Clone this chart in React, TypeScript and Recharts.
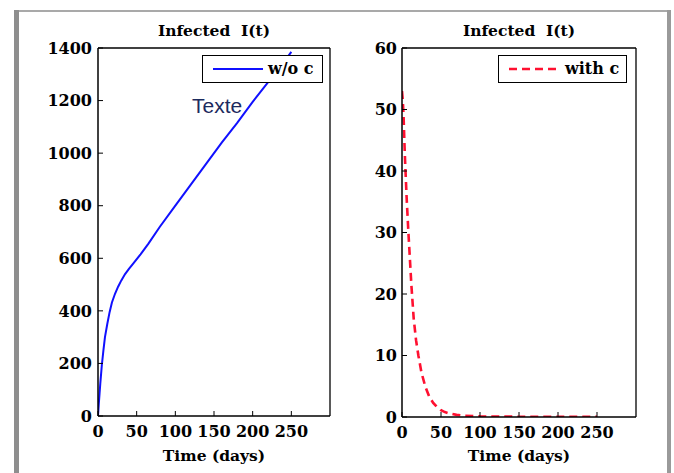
import React from 'react';
import { LineChart, Line, XAxis, YAxis, Legend, Label } from 'recharts';

// Series without control: time (days) and infected count
const woTimes = [0, 1, 2, 3, 5, 7, 9, 12, 15, 18, 22, 26, 30, 35, 40, 46, 55, 65, 80, 100, 120, 140, 160, 180, 200, 220, 240, 250];
const woValues = [0, 45, 85, 125, 195, 250, 300, 350, 395, 432, 465, 492, 515, 540, 560, 582, 615, 655, 720, 800, 880, 960, 1040, 1115, 1195, 1270, 1345, 1385];

// Series with control
const withTimes = [0, 1, 2, 3, 4, 6, 8, 10, 12, 15, 18, 21, 25, 30, 35, 40, 45, 50, 55, 60, 70, 80, 100, 125, 150, 175, 200, 225, 250];
const withValues = [53, 51.5, 49, 45, 41.5, 35.5, 30.5, 26, 21.5, 16, 12.5, 10, 7.2, 4.9, 3.3, 2.3, 1.6, 1.1, 0.8, 0.6, 0.35, 0.2, 0.1, 0.06, 0.05, 0.04, 0.03, 0.03, 0.03];

const xTicks = [0, 50, 100, 150, 200, 250];
const xTopTicks = [0, 50, 100, 150, 200, 250, 300];
const yTicksLeft = [0, 200, 400, 600, 800, 1000, 1200, 1400];
const yTicksRight = [0, 10, 20, 30, 40, 50, 60];

const titleText = 'Infected\u00A0 I(t)';
const xLabelText = 'Time (days)';
const annotationText = 'Texte';
const woName = 'w/o c';
const withName = 'with c';

const woData = woTimes.map((t, i) => ({ t, v: woValues[i] }));
const withData = withTimes.map((t, i) => ({ t, v: withValues[i] }));

const serif = 'DejaVu Serif';
const tickStyle = { fill: '#000', fontFamily: serif, fontWeight: 'bold' as const, fontSize: 16 };
const labelStyle = { fill: '#000', fontFamily: serif, fontWeight: 'bold' as const, fontSize: 15.5 };

function LegendBox(props: { width: number; name: string; dashed?: boolean; color: string }) {
  return (
    <div
      style={{
        boxSizing: 'border-box',
        width: props.width,
        height: 28,
        border: '1.4px solid #000',
        background: '#fff',
        position: 'relative',
      }}
    >
      <svg width={52} height={26} style={{ position: 'absolute', left: 9, top: 0 }}>
        <line
          x1={1}
          y1={13}
          x2={51}
          y2={13}
          stroke={props.color}
          strokeWidth={props.dashed ? 2.6 : 2}
          strokeDasharray={props.dashed ? '8 5' : undefined}
        />
      </svg>
      <span
        style={{
          position: 'absolute',
          left: props.dashed ? 66 : 65,
          top: 3,
          fontFamily: serif,
          fontWeight: 'bold',
          fontSize: 16,
          lineHeight: '20px',
          color: '#000',
          whiteSpace: 'nowrap',
        }}
      >
        {props.name}
      </span>
    </div>
  );
}

function Panel(props: {
  data: { t: number; v: number }[];
  width: number;
  margin: { top: number; right: number; bottom: number; left: number };
  yWidth: number;
  xHeight: number;
  yDomain: [number, number];
  yTicks: number[];
  yTickMargin: number;
  color: string;
  dashed?: boolean;
  name: string;
  legendLeft: number;
  legendWidth: number;
}) {
  return (
    <LineChart width={props.width} height={473} data={props.data} margin={props.margin}>
      <XAxis
        xAxisId="b"
        dataKey="t"
        type="number"
        domain={[0, 300]}
        ticks={xTicks}
        allowDataOverflow
        height={props.xHeight}
        tickSize={-5}
        tickMargin={15}
        stroke="#000"
        axisLine={{ stroke: '#000', strokeWidth: 1.5 }}
        tickLine={{ stroke: '#000', strokeWidth: 1 }}
        tick={tickStyle}
        interval={0}
      >
        <Label value={xLabelText} position="insideBottom" offset={12} style={labelStyle} />
      </XAxis>
      <XAxis
        xAxisId="top"
        orientation="top"
        type="number"
        domain={[0, 300]}
        ticks={xTopTicks}
        allowDataOverflow
        height={1}
        tickSize={-5}
        tick={false}
        stroke="#000"
        axisLine={{ stroke: '#000', strokeWidth: 1.3 }}
        tickLine={{ stroke: '#000', strokeWidth: 1 }}
        interval={0}
      >
        <Label value={titleText} position="top" offset={11} style={labelStyle} />
      </XAxis>
      <YAxis
        yAxisId="l"
        type="number"
        domain={props.yDomain}
        ticks={props.yTicks}
        allowDataOverflow
        width={props.yWidth}
        tickSize={-5}
        tickMargin={props.yTickMargin}
        stroke="#000"
        axisLine={{ stroke: '#000', strokeWidth: 1.5 }}
        tickLine={{ stroke: '#000', strokeWidth: 1 }}
        tick={tickStyle}
        interval={0}
      />
      <YAxis
        yAxisId="r"
        orientation="right"
        type="number"
        domain={props.yDomain}
        ticks={props.yTicks}
        allowDataOverflow
        width={1}
        tickSize={-5}
        tick={false}
        stroke="#000"
        axisLine={{ stroke: '#000', strokeWidth: 1.3 }}
        tickLine={{ stroke: '#000', strokeWidth: 1 }}
        interval={0}
      />
      <Legend
        layout="horizontal"
        verticalAlign="middle"
        align="center"
        wrapperStyle={{ left: props.legendLeft, top: 55, width: props.legendWidth }}
        content={() => (
          <LegendBox width={props.legendWidth} name={props.name} dashed={props.dashed} color={props.color} />
        )}
      />
      <Line
        xAxisId="b"
        yAxisId="l"
        dataKey="v"
        name={props.name}
        type="linear"
        dot={false}
        stroke={props.color}
        strokeWidth={props.dashed ? 2.6 : 2}
        strokeDasharray={props.dashed ? '8 5' : undefined}
        isAnimationActive={false}
      />
    </LineChart>
  );
}

export default function App() {
  return (
    <div style={{ position: 'absolute', left: 0, top: 0, width: 674, height: 473, background: '#fff', overflow: 'hidden' }}>
      <div style={{ position: 'absolute', left: 14, top: 10, width: 657, height: 2, background: '#a9a9a9' }} />
      <div style={{ position: 'absolute', left: 14, top: 10, width: 5, height: 463, background: '#8e8e8e' }} />
      <div style={{ position: 'absolute', left: 667, top: 10, width: 4, height: 463, background: '#9a9a9a' }} />

      <div style={{ position: 'absolute', left: 0, top: 0 }}>
        <Panel
          data={woData}
          width={340}
          margin={{ top: 47, right: 9, bottom: 0, left: 38 }}
          yWidth={60}
          xHeight={57}
          yDomain={[0, 1400]}
          yTicks={yTicksLeft}
          yTickMargin={11}
          color="#1010ff"
          name={woName}
          legendLeft={202}
          legendWidth={121}
        />
      </div>
      <div style={{ position: 'absolute', left: 340, top: 0 }}>
        <Panel
          data={withData}
          width={334}
          margin={{ top: 47, right: 37, bottom: 0, left: 22 }}
          yWidth={40}
          xHeight={56}
          yDomain={[0, 60]}
          yTicks={yTicksRight}
          yTickMargin={10}
          color="#ff1030"
          dashed
          name={withName}
          legendLeft={158}
          legendWidth={129}
        />
      </div>
      <div
        style={{
          position: 'absolute',
          left: 192,
          top: 95,
          fontFamily: 'Liberation Sans',
          fontSize: 21,
          lineHeight: 1,
          color: '#1c2b5e',
          whiteSpace: 'nowrap',
        }}
      >
        {annotationText}
      </div>
    </div>
  );
}
